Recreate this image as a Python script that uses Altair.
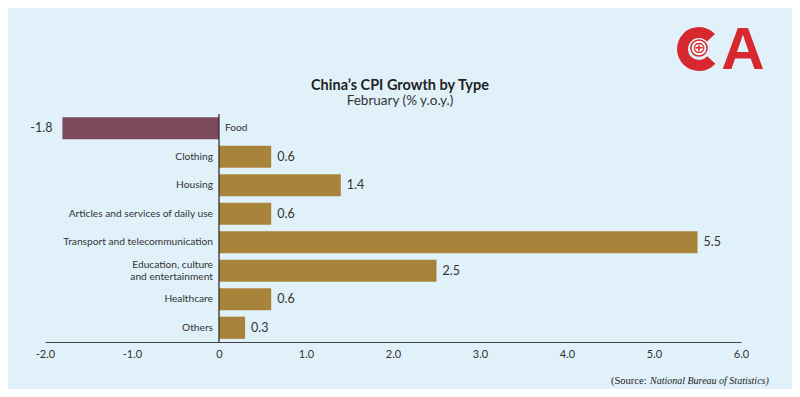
import altair as alt
import pandas as pd

categories = ["Food", "Clothing", "Housing", "Articles and services of daily use",
              "Transport and telecommunication", "Education, culture\nand entertainment",
              "Healthcare", "Others"]
values = [-1.8, 0.6, 1.4, 0.6, 5.5, 2.5, 0.6, 0.3]
x_ticks = [-2, -1, 0, 1, 2, 3, 4, 5, 6]

df = pd.DataFrame({"cat": categories, "val": values})
df["sign"] = ["neg" if v < 0 else "pos" for v in values]
df["lab"] = [f"{v:.1f}" for v in values]
df["multi"] = ["\n" in c for c in categories]

FONT = "Lato"
W, H = 696, 228

y_enc = alt.Y("cat:N", sort=categories, axis=None,
              scale=alt.Scale(paddingInner=0.22, paddingOuter=0.11))
x_scale = alt.Scale(domain=[-2, 6], nice=False)

base = alt.Chart(df)

bars = base.mark_bar().encode(
    x=alt.X("val:Q", scale=x_scale,
            axis=alt.Axis(values=x_ticks, title=None, grid=False, ticks=False,
                          labelFlush=False,
                          labelExpr="datum.value == 0 ? '0' : replace(format(datum.value, '.1f'), '\u2212', '-')",
                          labelFont=FONT, labelFontSize=11, labelColor="#333333",
                          labelPadding=6, domainColor="#444444", domainWidth=1.2)),
    y=y_enc,
    color=alt.Color("sign:N", scale=alt.Scale(domain=["neg", "pos"], range=["#7b4a5b", "#a8843a"]),
                    legend=None),
)

zero = alt.Chart(pd.DataFrame({"z": [0]})).mark_rule(color="#333333", strokeWidth=1.3).encode(
    x=alt.X("z:Q", scale=x_scale))

cat_style = dict(baseline="middle", font=FONT, fontSize=10.2, color="#333333",
                 lineBreak="\n", lineHeight=12)
cat_pos = base.transform_filter("datum.val >= 0 && !datum.multi").mark_text(
    align="right", dx=-6, **cat_style).encode(x=alt.datum(0), y=y_enc, text="cat:N")
cat_multi = base.transform_filter("datum.val >= 0 && datum.multi").mark_text(
    align="right", dx=-6, dy=-6, **cat_style).encode(x=alt.datum(0), y=y_enc, text="cat:N")
cat_neg = base.transform_filter("datum.val < 0").mark_text(
    align="left", dx=6, **cat_style).encode(x=alt.datum(0), y=y_enc, text="cat:N")

val_pos = base.transform_filter("datum.val >= 0").mark_text(
    align="left", baseline="middle", dx=6, font=FONT, fontSize=12.5, color="#333333").encode(
    x="val:Q", y=y_enc, text="lab:N")
val_neg = base.transform_filter("datum.val < 0").mark_text(
    align="right", baseline="middle", dx=-10, font=FONT, fontSize=12.5, color="#333333").encode(
    x="val:Q", y=y_enc, text="lab:N")

one = pd.DataFrame({"a": [0]})
title = alt.Chart(one).mark_text(font=FONT, fontSize=14.5, fontWeight="bold", color="#222222",
                                 align="center", baseline="middle").encode(
    x=alt.value(355), y=alt.value(-28), text=alt.value("China’s CPI Growth by Type"))
subtitle = alt.Chart(one).mark_text(font=FONT, fontSize=13.5, color="#333333",
                                    align="center", baseline="middle").encode(
    x=alt.value(355), y=alt.value(-13), text=alt.value("February (% y.o.y.)"))

src1 = alt.Chart(one).mark_text(font="Liberation Serif", fontSize=10.5, color="#222222",
                                align="left", baseline="middle").encode(
    x=alt.value(566), y=alt.value(267), text=alt.value("(Source:"))
src2 = alt.Chart(one).mark_text(font="Liberation Serif", fontSize=10, fontStyle="italic",
                                color="#222222", align="left", baseline="middle").encode(
    x=alt.value(605), y=alt.value(267), text=alt.value("National Bureau of Statistics)"))

RED = "#d7282f"
logo_c = alt.Chart(one).mark_arc(color=RED, radius=22, radius2=11,
                                 theta=2.3, theta2=7.1).encode(
    x=alt.value(654), y=alt.value(-65))
globe = alt.Chart(one).mark_point(shape="circle", size=260, filled=True, fill="white",
                                  stroke=RED, strokeWidth=1.5, opacity=1).encode(
    x=alt.value(654), y=alt.value(-66))
globe_grid = alt.Chart(one).mark_text(font="DejaVu Sans", fontSize=16, color=RED,
                                      align="center", baseline="middle").encode(
    x=alt.value(654), y=alt.value(-66), text=alt.value("\u2295"))
logo_a = alt.Chart(one).mark_text(font="Liberation Sans", fontSize=60, fontWeight="bold",
                                  color=RED, align="center", baseline="middle").encode(
    x=alt.value(698), y=alt.value(-63), text=alt.value("A"))

chart = alt.layer(bars, zero, cat_pos, cat_multi, cat_neg, val_pos, val_neg, title, subtitle,
                  src1, src2, logo_c, logo_a, globe, globe_grid).properties(
    width=W, height=H,
    autosize=alt.AutoSizeParams(type="none"),
    padding={"left": 37, "top": 106, "right": 51, "bottom": 47},
).configure(background="#e1f1fa").configure_view(stroke=None)

chart.save("out.html", embed_options={"renderer": "svg", "actions": False})
